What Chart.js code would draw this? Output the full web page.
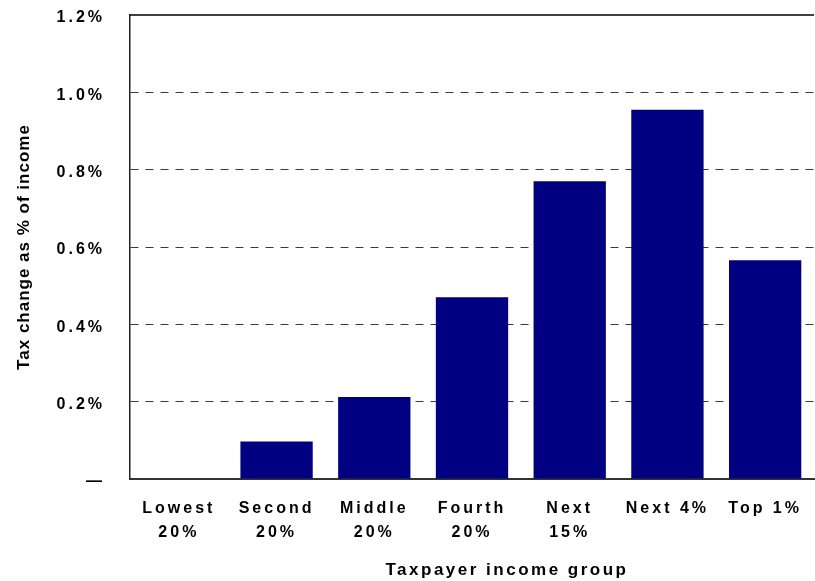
<!DOCTYPE html>
<html>
<head>
<meta charset="utf-8">
<script src="https://cdn.jsdelivr.net/npm/chart.js@4/dist/chart.umd.min.js"></script>
<style>
  html, body { margin: 0; padding: 0; background: #fff; }
  #wrap { width: 815px; height: 581px; }
</style>
</head>
<body>
<div id="wrap"><canvas id="taxChart" width="815" height="581"></canvas></div>
<script>
// Chart data
const categories = [
  ['Lowest', '20%'],
  ['Second', '20%'],
  ['Middle', '20%'],
  ['Fourth', '20%'],
  ['Next', '15%'],
  'Next 4%',
  'Top 1%'
];
const taxChange = [0, 0.097, 0.212, 0.47, 0.77, 0.955, 0.566];
const yMax = 1.2;
const yStep = 0.2;
const zeroLabel = '\u2014';
const xTitle = 'Taxpayer income group';
const yTitle = 'Tax change as % of income';

const FONT = '"Liberation Sans", Arial, Helvetica, sans-serif';

// letter spacing for tick labels + hand drawn axis titles + solid top line
const extrasPlugin = {
  id: 'extras',
  beforeDraw(chart) {
    chart.ctx.letterSpacing = '3px';
  },
  afterDraw(chart) {
    const { ctx, chartArea } = chart;
    ctx.save();
    // solid line at top of plot
    ctx.strokeStyle = '#000';
    ctx.lineWidth = 1.5;
    ctx.beginPath();
    ctx.moveTo(chartArea.left, chartArea.top);
    ctx.lineTo(chartArea.right, chartArea.top);
    ctx.stroke();

    ctx.fillStyle = '#000';
    ctx.textAlign = 'center';
    ctx.textBaseline = 'middle';

    // x axis title
    ctx.font = 'bold 17px ' + FONT;
    ctx.letterSpacing = '2.5px';
    ctx.fillText(xTitle, 507, 570);

    // y axis title
    ctx.font = 'bold 17px ' + FONT;
    ctx.letterSpacing = '1px';
    ctx.translate(24, (chartArea.top + chartArea.bottom) / 2);
    ctx.rotate(-Math.PI / 2);
    ctx.fillText(yTitle, 0, 0);
    ctx.restore();
  }
};

const ctx = document.getElementById('taxChart').getContext('2d');
new Chart(ctx, {
  type: 'bar',
  data: {
    labels: categories,
    datasets: [{
      label: 'Tax change',
      data: taxChange,
      backgroundColor: '#000080',
      borderWidth: 0,
      barPercentage: 0.74,
      categoryPercentage: 1.0
    }]
  },
  options: {
    responsive: false,
    animation: false,
    layout: { padding: { top: 15, right: 1, left: 0, bottom: 0 } },
    plugins: {
      legend: { display: false },
      tooltip: { enabled: false }
    },
    scales: {
      x: {
        grid: { display: false, drawTicks: false },
        border: { display: true, color: '#333', width: 2 },
        ticks: {
          color: '#000',
          padding: 18,
          maxRotation: 0,
          autoSkip: false,
          font: { family: FONT, size: 16, weight: 'bold', lineHeight: 1.5 }
        },
        afterFit: (scale) => {
          scale.height = 102;
          scale.paddingLeft = 0;
          scale.paddingRight = 0;
        }
      },
      y: {
        min: 0,
        max: yMax,
        grid: {
          drawTicks: false,
          lineWidth: 1,
          color: (c) => {
            const v = c.tick ? c.tick.value : 0;
            if (Math.abs(v) < 1e-6 || Math.abs(v - yMax) < 1e-6) return 'rgba(0,0,0,0)';
            return '#3a3a3a';
          }
        },
        border: { display: true, color: '#222', width: 1.5, dash: [8, 7] },
        ticks: {
          stepSize: yStep,
          color: '#000',
          padding: 25,
          labelOffset: 3,
          font: { family: FONT, size: 16, weight: 'bold' },
          callback: (value) => Math.abs(value) < 1e-6 ? zeroLabel : value.toFixed(1) + '%'
        },
        afterFit: (scale) => {
          scale.width = 130;
          scale.paddingTop = 0;
          scale.paddingBottom = 0;
        }
      }
    }
  },
  plugins: [extrasPlugin]
});
</script>
</body>
</html>
